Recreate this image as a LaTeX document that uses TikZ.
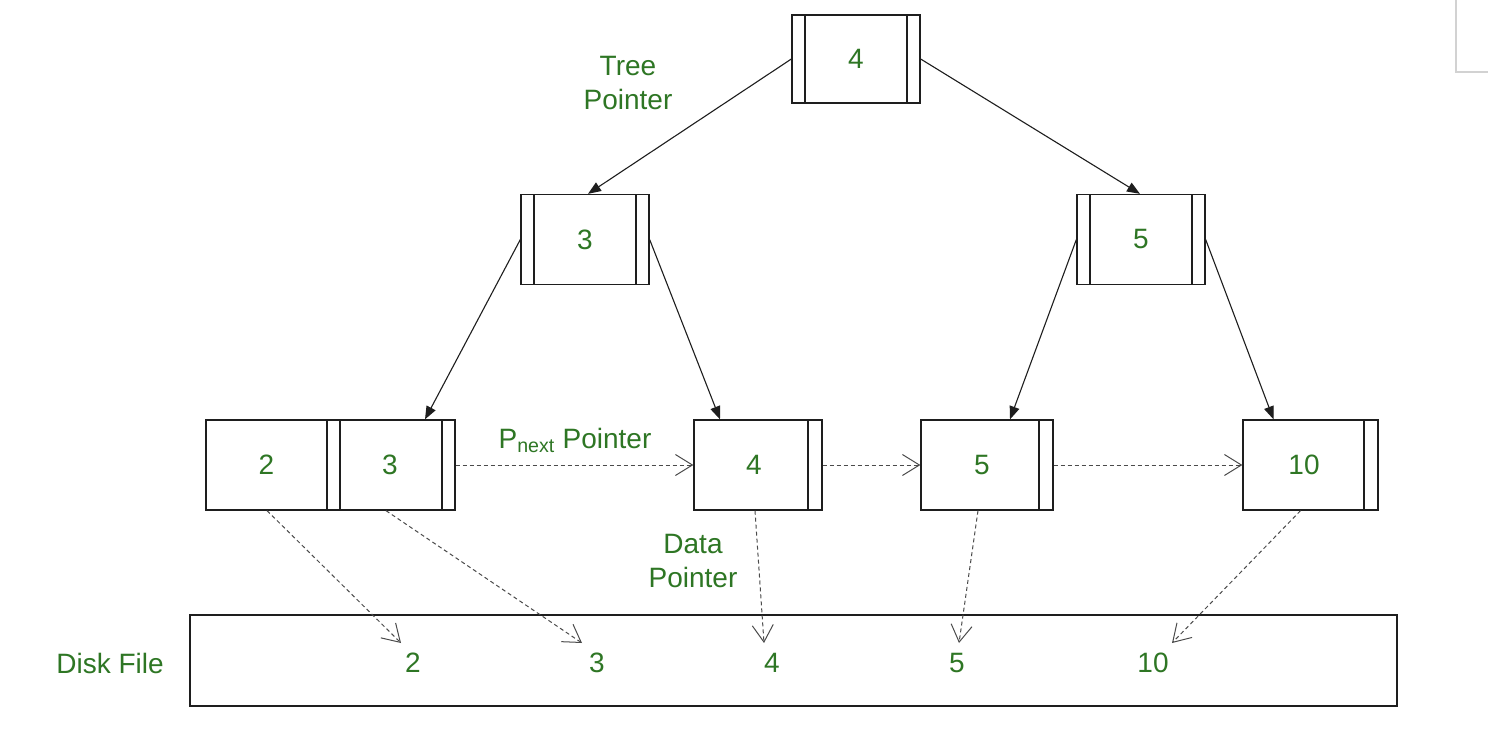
\documentclass[tikz,border=0pt]{standalone}
\usepackage{fontspec}
\setmainfont{Liberation Sans}
\usetikzlibrary{arrows.meta}
\definecolor{tgreen}{RGB}{46,118,36}
\definecolor{lcol}{RGB}{30,30,30}
\tikzset{
  txt/.style={text=tgreen, font=\fontsize{28}{34}\selectfont, inner sep=0pt},
  box/.style={draw=lcol, line width=1.3pt, rectangle, inner sep=0pt, minimum height=90pt, text=tgreen, font=\fontsize{28}{34}\selectfont},
  twobar/.style={box, minimum width=128pt, path picture={
     \draw[lcol, line width=1.3pt] ([xshift=13pt]path picture bounding box.north west) -- ([xshift=13pt]path picture bounding box.south west);
     \draw[lcol, line width=1.3pt] ([xshift=-13pt]path picture bounding box.north east) -- ([xshift=-13pt]path picture bounding box.south east);}},
  rbar/.style={box, path picture={
     \draw[lcol, line width=1.3pt] ([xshift=-14pt]path picture bounding box.north east) -- ([xshift=-14pt]path picture bounding box.south east);}},
  tree/.style={draw=lcol, line width=1.1pt, -{Triangle[length=13pt,width=10pt]}},
  dptr/.style={draw=lcol!80, line width=1pt, dash pattern=on 4pt off 3pt, -{Straight Barb[length=17pt,width=21pt,line width=1pt]}},
}
\begin{document}
\begin{tikzpicture}[x=1pt, y=-1pt]
\useasboundingbox (0,0) rectangle (1488,736);
\fill[white] (0,0) rectangle (1488,736);
% grey box top-right
\draw[gray!35, line width=1.5pt] (1456,0) -- (1456,72) -- (1488,72);

% internal nodes
\node[twobar, minimum height=88pt] (r) at (856,59) {4};
\node[twobar] (n3) at (585,239.5) {3};
\node[twobar] (n5) at (1141,239.5) {5};

% leaves
\node[box, minimum width=121pt] (l2) at (266.5,465) {2};
\node[twobar, minimum width=128pt] (l3) at (391,465) {};
\node[txt] (t3) at (390,465) {3};
\node[rbar, minimum width=128pt] (l4) at (758,465) {};
\node[txt] (t4) at (754,465) {4};
\node[rbar, minimum width=132pt] (l5) at (987,465) {};
\node[txt] (t5) at (982,465) {5};
\node[rbar, minimum width=135pt] (l10) at (1310.5,465) {};
\node[txt] (t10) at (1304,465) {10};

% disk file
\node[draw=lcol, line width=1.3pt, minimum width=1207pt, minimum height=91pt, inner sep=0pt] (disk) at (793.5,660.5) {};
\node[txt] (d2) at (413,663) {2};
\node[txt] (d3) at (597,663) {3};
\node[txt] (d4) at (772,663) {4};
\node[txt] (d5) at (957,663) {5};
\node[txt] (d10) at (1153,663) {10};
\coordinate (e2) at (401,643);
\coordinate (e3) at (582,643);
\coordinate (e4) at (764,643);
\coordinate (e5) at (959,643);
\coordinate (e10) at (1172,643);

% labels
\node[txt, align=center] (tp) at (628,83) {Tree\\Pointer};
\node[txt, align=center] (dp) at (693,561) {Data\\Pointer};
\node[txt] (df) at (110,663) {Disk File};
\node[txt] (pn) at (575,440) {P\textsubscript{next} Pointer};

% tree pointers
\draw[tree] (r.west) -- ([xshift=3pt]n3.north);
\draw[tree] (r.east) -- ([xshift=-1pt]n5.north);
\draw[tree] (n3.west) -- ([xshift=34pt]l3.north);
\draw[tree] (n3.east) -- ([xshift=-38pt]l4.north);
\draw[tree] (n5.west) -- ([xshift=23pt]l5.north);
\draw[tree] (n5.east) -- ([xshift=-37pt]l10.north);

% next pointers
\draw[dptr] (l3.east) -- (l4.west);
\draw[dptr] (l4.east) -- (l5.west);
\draw[dptr] (l5.east) -- (l10.west);

% data pointers
\draw[dptr] ([xshift=0.5pt]l2.south) -- (e2);
\draw[dptr] ([xshift=-5pt]l3.south) -- (e3);
\draw[dptr] ([xshift=-3pt]l4.south) -- (e4);
\draw[dptr] ([xshift=-9pt]l5.south) -- (e5);
\draw[dptr] ([xshift=-10pt]l10.south) -- (e10);
\end{tikzpicture}
\end{document}
